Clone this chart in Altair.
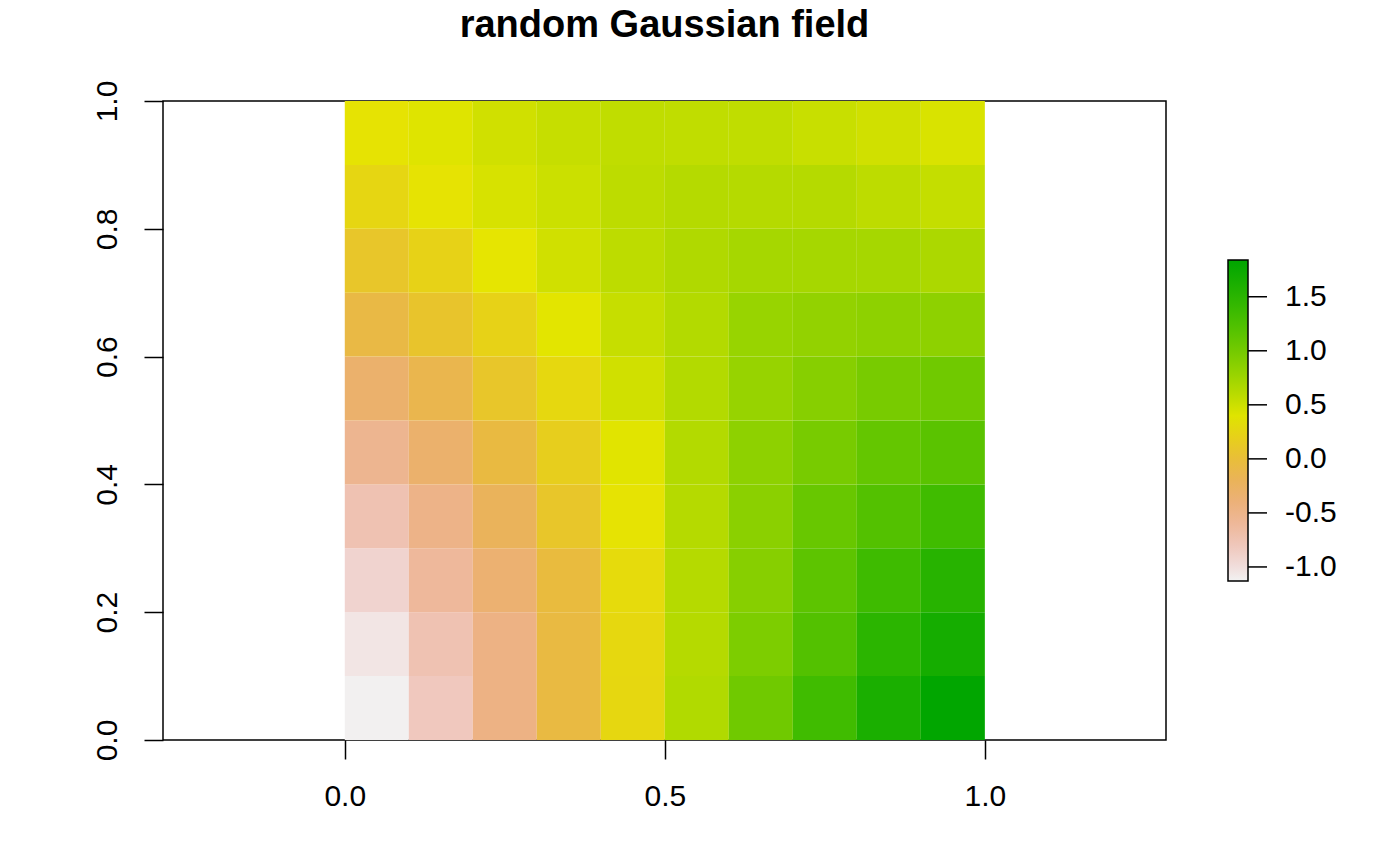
import colorsys
import altair as alt
import pandas as pd

# ---- data (cell values of a 10 x 10 field) ----
x_left = [0.0, 0.1, 0.2, 0.3, 0.4, 0.5, 0.6, 0.7, 0.8, 0.9]
y_bottom = [0.0, 0.1, 0.2, 0.3, 0.4, 0.5, 0.6, 0.7, 0.8, 0.9]
cell_size = 0.1

row_y00 = [-1.12, -0.82, -0.47, -0.06, 0.26, 0.64, 1.02, 1.34, 1.62, 1.83]
row_y01 = [-1.05, -0.75, -0.47, -0.06, 0.27, 0.62, 0.94, 1.21, 1.49, 1.66]
row_y02 = [-0.92, -0.61, -0.35, -0.03, 0.29, 0.62, 0.88, 1.14, 1.35, 1.52]
row_y03 = [-0.75, -0.49, -0.21, 0.10, 0.35, 0.62, 0.86, 1.07, 1.21, 1.34]
row_y04 = [-0.54, -0.32, -0.05, 0.18, 0.39, 0.63, 0.84, 0.97, 1.10, 1.16]
row_y05 = [-0.32, -0.13, 0.10, 0.27, 0.48, 0.63, 0.79, 0.88, 0.97, 1.02]
row_y06 = [-0.08, 0.08, 0.22, 0.38, 0.53, 0.63, 0.78, 0.81, 0.84, 0.84]
row_y07 = [0.10, 0.22, 0.36, 0.48, 0.58, 0.65, 0.70, 0.70, 0.70, 0.67]
row_y08 = [0.25, 0.35, 0.44, 0.50, 0.58, 0.62, 0.62, 0.62, 0.58, 0.54]
row_y09 = [0.35, 0.40, 0.48, 0.53, 0.56, 0.56, 0.56, 0.52, 0.48, 0.43]
rows = [row_y00, row_y01, row_y02, row_y03, row_y04,
        row_y05, row_y06, row_y07, row_y08, row_y09]

legend_min = -1.13
legend_max = 1.84
legend_ticks = [-1.0, -0.5, 0.0, 0.5, 1.0, 1.5]
x_ticks = [0.0, 0.5, 1.0]
y_ticks = [0.0, 0.2, 0.4, 0.6, 0.8, 1.0]
x_domain = [-0.284, 1.283]
y_domain = [0.0, 1.0]

# ---- layout (pixels) ----
PLOT_W, PLOT_H = 1003, 639
PAD_L, PAD_T, PAD_R, PAD_B = 163, 101, 234, 126
LEG_X, LEG_TOP, LEG_LEN, LEG_THICK = 1065, 159, 321, 20
FONT = "Liberation Sans"

# ---- R's rev(terrain.colors(255)) colour ramp ----
def terrain_colors(n):
    k = n // 2
    def seq(a, b, m):
        return [a + (b - a) * i / (m - 1) for i in range(m)] if m > 1 else [a]
    h1, s1, v1 = seq(4/12, 2/12, k), seq(1, 1, k), seq(0.65, 0.9, k)
    m = n - k + 1
    h2, s2, v2 = seq(2/12, 0, m)[1:], seq(1, 0, m)[1:], seq(0.9, 0.95, m)[1:]
    out = []
    for h, s, v in zip(h1 + h2, s1 + s2, v1 + v2):
        r, g, b = colorsys.hsv_to_rgb(h, s, v)
        out.append("#%02x%02x%02x" % (round(r * 255), round(g * 255), round(b * 255)))
    return out

ramp = list(reversed(terrain_colors(255)))
ramp_domain = [legend_min + (legend_max - legend_min) * i / (len(ramp) - 1) for i in range(len(ramp))]

records = []
for j, yb in enumerate(y_bottom):
    for i, xl in enumerate(x_left):
        records.append({"x0": xl, "x1": xl + cell_size,
                        "y0": yb, "y1": yb + cell_size,
                        "z": rows[j][i]})
df = pd.DataFrame(records)

cells = alt.Chart(df).mark_rect(strokeWidth=0).encode(
    x=alt.X("x0:Q", scale=alt.Scale(domain=x_domain, nice=False, zero=False),
            axis=alt.Axis(values=x_ticks, format=".1f", title=None, grid=False,
                          domain=False, tickSize=19, tickWidth=1.5, tickColor="black",
                          labelFontSize=30, labelPadding=22, labelColor="black",
                          labelFont=FONT)),
    x2="x1:Q",
    y=alt.Y("y0:Q", scale=alt.Scale(domain=y_domain, nice=False, zero=False),
            axis=alt.Axis(values=y_ticks, format=".1f", title=None, grid=False,
                          domain=False, tickSize=19, tickWidth=1.5, tickColor="black",
                          labelFontSize=30, labelPadding=22, labelColor="black",
                          labelAngle=270, labelAlign="center", labelBaseline="bottom",
                          labelFont=FONT)),
    y2="y1:Q",
    color=alt.Color("z:Q",
                    scale=alt.Scale(domain=ramp_domain, range=ramp, interpolate="rgb"),
                    legend=alt.Legend(type="gradient", title=None, orient="none",
                                      legendX=LEG_X, legendY=LEG_TOP,
                                      direction="vertical", gradientLength=LEG_LEN,
                                      gradientThickness=LEG_THICK, gradientStrokeColor="black",
                                      gradientStrokeWidth=1.5, values=legend_ticks,
                                      labelExpr="replace(format(datum.value, '.1f'), '\u2212', '-')",
                                      labelFontSize=30, labelFont=FONT, labelColor="black",
                                      labelOffset=37, padding=0, labelOverlap=False)),
)

# tick marks beside the colour bar, on a scale aligned with the bar
span = (legend_max - legend_min) * PLOT_H / LEG_LEN
d1 = legend_max + LEG_TOP / PLOT_H * span
d0 = d1 - span
tick_df = pd.DataFrame({"t": legend_ticks})
leg_ticks = alt.Chart(tick_df).mark_rule(color="black", strokeWidth=1.5).encode(
    y=alt.Y("t:Q", scale=alt.Scale(domain=[d0, d1], nice=False, zero=False), axis=None),
    x=alt.value(LEG_X + LEG_THICK),
    x2=alt.value(LEG_X + LEG_THICK + 19),
)

chart = alt.layer(cells, leg_ticks).resolve_scale(y="independent").properties(
    width=PLOT_W,
    height=PLOT_H,
    title=alt.TitleParams("random Gaussian field", fontSize=38, font=FONT,
                          fontWeight="bold", color="black", offset=35, anchor="middle"),
    autosize=alt.AutoSizeParams(type="none"),
    padding={"left": PAD_L, "top": PAD_T, "right": PAD_R, "bottom": PAD_B},
).configure(background="white").configure_view(stroke="black", strokeWidth=1.5)

chart.save("out.html", embed_options={"renderer": "svg", "actions": False})
